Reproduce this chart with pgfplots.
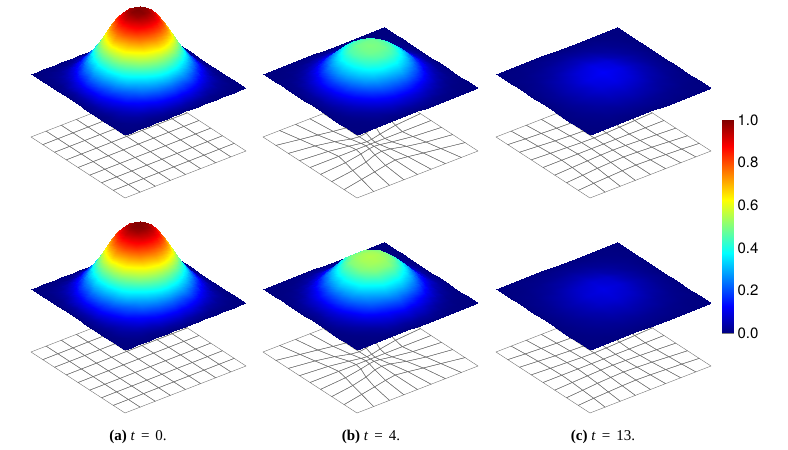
\documentclass[border=0pt]{standalone}
\usepackage{fontspec}
\setmainfont{Liberation Serif}
\newfontfamily\hv{TeX Gyre Heros}
\usepackage{pgfplots}
\usepackage{pgfplotstable}
\pgfplotsset{compat=1.18}
\pgfplotstableread{
0 80 0
4 80 0
8 80 0
12 80 0
16 80 0
20 80 0
24 80 0
28 80 0
32 80 0
36 80 0
40 80 0
44 80 0
48 80 0
52 80 0
56 80 0
60 80 0
64 80 0
68 80 0
72 80 0
76 80 0
80 80 0
0 76 0
4 76 0
8 76 0.005
12 76 0.005
16 76 0.01
20 76 0.01
24 76 0.02
28 76 0.03
32 76 0.03
36 76 0.04
40 76 0.04
44 76 0.04
48 76 0.03
52 76 0.03
56 76 0.02
60 76 0.01
64 76 0.01
68 76 0.005
72 76 0.005
76 76 0
80 76 0
0 72 0
4 72 0.005
8 72 0.01
12 72 0.02
16 72 0.03
20 72 0.04
24 72 0.06
28 72 0.09
32 72 0.11
36 72 0.12
40 72 0.13
44 72 0.12
48 72 0.11
52 72 0.09
56 72 0.06
60 72 0.04
64 72 0.03
68 72 0.02
72 72 0.01
76 72 0.005
80 72 0
0 68 0
4 68 0.005
8 68 0.02
12 68 0.03
16 68 0.06
20 68 0.09
24 68 0.13
28 68 0.17
32 68 0.20
36 68 0.23
40 68 0.24
44 68 0.23
48 68 0.20
52 68 0.17
56 68 0.13
60 68 0.09
64 68 0.06
68 68 0.03
72 68 0.02
76 68 0.005
80 68 0
0 64 0
4 64 0.01
8 64 0.03
12 64 0.06
16 64 0.10
20 64 0.15
24 64 0.21
28 64 0.27
32 64 0.32
36 64 0.36
40 64 0.37
44 64 0.36
48 64 0.32
52 64 0.27
56 64 0.21
60 64 0.15
64 64 0.10
68 64 0.06
72 64 0.03
76 64 0.01
80 64 0
0 60 0
4 60 0.01
8 60 0.04
12 60 0.09
16 60 0.15
20 60 0.23
24 60 0.31
28 60 0.39
32 60 0.46
36 60 0.51
40 60 0.52
44 60 0.51
48 60 0.46
52 60 0.39
56 60 0.31
60 60 0.23
64 60 0.15
68 60 0.09
72 60 0.04
76 60 0.01
80 60 0
0 56 0
4 56 0.02
8 56 0.06
12 56 0.13
16 56 0.21
20 56 0.31
24 56 0.42
28 56 0.52
32 56 0.61
36 56 0.67
40 56 0.69
44 56 0.67
48 56 0.61
52 56 0.52
56 56 0.42
60 56 0.31
64 56 0.21
68 56 0.13
72 56 0.06
76 56 0.02
80 56 0
0 52 0
4 52 0.03
8 52 0.09
12 52 0.17
16 52 0.27
20 52 0.39
24 52 0.52
28 52 0.65
32 52 0.74
36 52 0.81
40 52 0.83
44 52 0.81
48 52 0.74
52 52 0.65
56 52 0.52
60 52 0.39
64 52 0.27
68 52 0.17
72 52 0.09
76 52 0.03
80 52 0
0 48 0
4 48 0.03
8 48 0.11
12 48 0.20
16 48 0.32
20 48 0.46
24 48 0.61
28 48 0.74
32 48 0.85
36 48 0.91
40 48 0.93
44 48 0.91
48 48 0.85
52 48 0.74
56 48 0.61
60 48 0.46
64 48 0.32
68 48 0.20
72 48 0.11
76 48 0.03
80 48 0
0 44 0
4 44 0.04
8 44 0.12
12 44 0.23
16 44 0.36
20 44 0.51
24 44 0.67
28 44 0.81
32 44 0.91
36 44 0.97
40 44 0.99
44 44 0.97
48 44 0.91
52 44 0.81
56 44 0.67
60 44 0.51
64 44 0.36
68 44 0.23
72 44 0.12
76 44 0.04
80 44 0
0 40 0
4 40 0.04
8 40 0.13
12 40 0.24
16 40 0.37
20 40 0.52
24 40 0.69
28 40 0.83
32 40 0.93
36 40 0.99
40 40 1.00
44 40 0.99
48 40 0.93
52 40 0.83
56 40 0.69
60 40 0.52
64 40 0.37
68 40 0.24
72 40 0.13
76 40 0.04
80 40 0
0 36 0
4 36 0.04
8 36 0.12
12 36 0.23
16 36 0.36
20 36 0.51
24 36 0.67
28 36 0.81
32 36 0.91
36 36 0.97
40 36 0.99
44 36 0.97
48 36 0.91
52 36 0.81
56 36 0.67
60 36 0.51
64 36 0.36
68 36 0.23
72 36 0.12
76 36 0.04
80 36 0
0 32 0
4 32 0.03
8 32 0.11
12 32 0.20
16 32 0.32
20 32 0.46
24 32 0.61
28 32 0.74
32 32 0.85
36 32 0.91
40 32 0.93
44 32 0.91
48 32 0.85
52 32 0.74
56 32 0.61
60 32 0.46
64 32 0.32
68 32 0.20
72 32 0.11
76 32 0.03
80 32 0
0 28 0
4 28 0.03
8 28 0.09
12 28 0.17
16 28 0.27
20 28 0.39
24 28 0.52
28 28 0.65
32 28 0.74
36 28 0.81
40 28 0.83
44 28 0.81
48 28 0.74
52 28 0.65
56 28 0.52
60 28 0.39
64 28 0.27
68 28 0.17
72 28 0.09
76 28 0.03
80 28 0
0 24 0
4 24 0.02
8 24 0.06
12 24 0.13
16 24 0.21
20 24 0.31
24 24 0.42
28 24 0.52
32 24 0.61
36 24 0.67
40 24 0.69
44 24 0.67
48 24 0.61
52 24 0.52
56 24 0.42
60 24 0.31
64 24 0.21
68 24 0.13
72 24 0.06
76 24 0.02
80 24 0
0 20 0
4 20 0.01
8 20 0.04
12 20 0.09
16 20 0.15
20 20 0.23
24 20 0.31
28 20 0.39
32 20 0.46
36 20 0.51
40 20 0.52
44 20 0.51
48 20 0.46
52 20 0.39
56 20 0.31
60 20 0.23
64 20 0.15
68 20 0.09
72 20 0.04
76 20 0.01
80 20 0
0 16 0
4 16 0.01
8 16 0.03
12 16 0.06
16 16 0.10
20 16 0.15
24 16 0.21
28 16 0.27
32 16 0.32
36 16 0.36
40 16 0.37
44 16 0.36
48 16 0.32
52 16 0.27
56 16 0.21
60 16 0.15
64 16 0.10
68 16 0.06
72 16 0.03
76 16 0.01
80 16 0
0 12 0
4 12 0.005
8 12 0.02
12 12 0.03
16 12 0.06
20 12 0.09
24 12 0.13
28 12 0.17
32 12 0.20
36 12 0.23
40 12 0.24
44 12 0.23
48 12 0.20
52 12 0.17
56 12 0.13
60 12 0.09
64 12 0.06
68 12 0.03
72 12 0.02
76 12 0.005
80 12 0
0 8 0
4 8 0.005
8 8 0.01
12 8 0.02
16 8 0.03
20 8 0.04
24 8 0.06
28 8 0.09
32 8 0.11
36 8 0.12
40 8 0.13
44 8 0.12
48 8 0.11
52 8 0.09
56 8 0.06
60 8 0.04
64 8 0.03
68 8 0.02
72 8 0.01
76 8 0.005
80 8 0
0 4 0
4 4 0
8 4 0.005
12 4 0.005
16 4 0.01
20 4 0.01
24 4 0.02
28 4 0.03
32 4 0.03
36 4 0.04
40 4 0.04
44 4 0.04
48 4 0.03
52 4 0.03
56 4 0.02
60 4 0.01
64 4 0.01
68 4 0.005
72 4 0.005
76 4 0
80 4 0
0 0 0
4 0 0
8 0 0
12 0 0
16 0 0
20 0 0
24 0 0
28 0 0
32 0 0
36 0 0
40 0 0
44 0 0
48 0 0
52 0 0
56 0 0
60 0 0
64 0 0
68 0 0
72 0 0
76 0 0
80 0 0
}\surfA
\pgfplotstableread{
0 80 0
5 80 0
10 80 0
15 80 0
20 80 0
25 80 0
30 80 0
35 80 0
40 80 0
45 80 0
50 80 0
55 80 0
60 80 0
65 80 0
70 80 0
75 80 0
80 80 0
0 75 0
5 75 0
10 75 0.002
15 75 0.005
20 75 0.01
25 75 0.015
30 75 0.025
35 75 0.03
40 75 0.03
45 75 0.03
50 75 0.025
55 75 0.015
60 75 0.01
65 75 0.005
70 75 0.002
75 75 0
80 75 0
0 70 0
5 70 0.002
10 70 0.005
15 70 0.014
20 70 0.03
25 70 0.05
30 70 0.07
35 70 0.085
40 70 0.09
45 70 0.085
50 70 0.07
55 70 0.05
60 70 0.03
65 70 0.014
70 70 0.005
75 70 0.002
80 70 0
0 65 0
5 65 0.005
10 65 0.014
15 65 0.033
20 65 0.065
25 65 0.10
30 65 0.14
35 65 0.17
40 65 0.18
45 65 0.17
50 65 0.14
55 65 0.10
60 65 0.065
65 65 0.033
70 65 0.014
75 65 0.005
80 65 0
0 60 0
5 60 0.01
10 60 0.03
15 60 0.065
20 60 0.12
25 60 0.18
30 60 0.24
35 60 0.275
40 60 0.29
45 60 0.275
50 60 0.24
55 60 0.18
60 60 0.12
65 60 0.065
70 60 0.03
75 60 0.01
80 60 0
0 55 0
5 55 0.015
10 55 0.05
15 55 0.10
20 55 0.18
25 55 0.26
30 55 0.33
35 55 0.38
40 55 0.39
45 55 0.38
50 55 0.33
55 55 0.26
60 55 0.18
65 55 0.10
70 55 0.05
75 55 0.015
80 55 0
0 50 0
5 50 0.025
10 50 0.07
15 50 0.14
20 50 0.24
25 50 0.33
30 50 0.41
35 50 0.45
40 50 0.46
45 50 0.45
50 50 0.41
55 50 0.33
60 50 0.24
65 50 0.14
70 50 0.07
75 50 0.025
80 50 0
0 45 0
5 45 0.03
10 45 0.085
15 45 0.17
20 45 0.275
25 45 0.38
30 45 0.45
35 45 0.485
40 45 0.49
45 45 0.485
50 45 0.45
55 45 0.38
60 45 0.275
65 45 0.17
70 45 0.085
75 45 0.03
80 45 0
0 40 0
5 40 0.03
10 40 0.09
15 40 0.18
20 40 0.29
25 40 0.39
30 40 0.46
35 40 0.49
40 40 0.50
45 40 0.49
50 40 0.46
55 40 0.39
60 40 0.29
65 40 0.18
70 40 0.09
75 40 0.03
80 40 0
0 35 0
5 35 0.03
10 35 0.085
15 35 0.17
20 35 0.275
25 35 0.38
30 35 0.45
35 35 0.485
40 35 0.49
45 35 0.485
50 35 0.45
55 35 0.38
60 35 0.275
65 35 0.17
70 35 0.085
75 35 0.03
80 35 0
0 30 0
5 30 0.025
10 30 0.07
15 30 0.14
20 30 0.24
25 30 0.33
30 30 0.41
35 30 0.45
40 30 0.46
45 30 0.45
50 30 0.41
55 30 0.33
60 30 0.24
65 30 0.14
70 30 0.07
75 30 0.025
80 30 0
0 25 0
5 25 0.015
10 25 0.05
15 25 0.10
20 25 0.18
25 25 0.26
30 25 0.33
35 25 0.38
40 25 0.39
45 25 0.38
50 25 0.33
55 25 0.26
60 25 0.18
65 25 0.10
70 25 0.05
75 25 0.015
80 25 0
0 20 0
5 20 0.01
10 20 0.03
15 20 0.065
20 20 0.12
25 20 0.18
30 20 0.24
35 20 0.275
40 20 0.29
45 20 0.275
50 20 0.24
55 20 0.18
60 20 0.12
65 20 0.065
70 20 0.03
75 20 0.01
80 20 0
0 15 0
5 15 0.005
10 15 0.014
15 15 0.033
20 15 0.065
25 15 0.10
30 15 0.14
35 15 0.17
40 15 0.18
45 15 0.17
50 15 0.14
55 15 0.10
60 15 0.065
65 15 0.033
70 15 0.014
75 15 0.005
80 15 0
0 10 0
5 10 0.002
10 10 0.005
15 10 0.014
20 10 0.03
25 10 0.05
30 10 0.07
35 10 0.085
40 10 0.09
45 10 0.085
50 10 0.07
55 10 0.05
60 10 0.03
65 10 0.014
70 10 0.005
75 10 0.002
80 10 0
0 5 0
5 5 0
10 5 0.002
15 5 0.005
20 5 0.01
25 5 0.015
30 5 0.025
35 5 0.03
40 5 0.03
45 5 0.03
50 5 0.025
55 5 0.015
60 5 0.01
65 5 0.005
70 5 0.002
75 5 0
80 5 0
0 0 0
5 0 0
10 0 0
15 0 0
20 0 0
25 0 0
30 0 0
35 0 0
40 0 0
45 0 0
50 0 0
55 0 0
60 0 0
65 0 0
70 0 0
75 0 0
80 0 0
}\surfB
\pgfplotstableread{
0 80 0
5 80 0
10 80 0
15 80 0
20 80 0
25 80 0
30 80 0
35 80 0
40 80 0
45 80 0
50 80 0
55 80 0
60 80 0
65 80 0
70 80 0
75 80 0
80 80 0
0 75 0
5 75 0
10 75 0.002
15 75 0.005
20 75 0.01
25 75 0.02
30 75 0.03
35 75 0.03
40 75 0.03
45 75 0.03
50 75 0.03
55 75 0.02
60 75 0.01
65 75 0.005
70 75 0.002
75 75 0
80 75 0
0 70 0
5 70 0.002
10 70 0.005
15 70 0.015
20 70 0.03
25 70 0.055
30 70 0.08
35 70 0.09
40 70 0.10
45 70 0.09
50 70 0.08
55 70 0.055
60 70 0.03
65 70 0.015
70 70 0.005
75 70 0.002
80 70 0
0 65 0
5 65 0.005
10 65 0.015
15 65 0.036
20 65 0.07
25 65 0.11
30 65 0.15
35 65 0.19
40 65 0.20
45 65 0.19
50 65 0.15
55 65 0.11
60 65 0.07
65 65 0.036
70 65 0.015
75 65 0.005
80 65 0
0 60 0
5 60 0.01
10 60 0.03
15 60 0.07
20 60 0.13
25 60 0.20
30 60 0.26
35 60 0.30
40 60 0.32
45 60 0.30
50 60 0.26
55 60 0.20
60 60 0.13
65 60 0.07
70 60 0.03
75 60 0.01
80 60 0
0 55 0
5 55 0.02
10 55 0.055
15 55 0.11
20 55 0.20
25 55 0.29
30 55 0.36
35 55 0.42
40 55 0.43
45 55 0.42
50 55 0.36
55 55 0.29
60 55 0.20
65 55 0.11
70 55 0.055
75 55 0.02
80 55 0
0 50 0
5 50 0.03
10 50 0.08
15 50 0.15
20 50 0.26
25 50 0.36
30 50 0.45
35 50 0.50
40 50 0.51
45 50 0.50
50 50 0.45
55 50 0.36
60 50 0.26
65 50 0.15
70 50 0.08
75 50 0.03
80 50 0
0 45 0
5 45 0.03
10 45 0.09
15 45 0.19
20 45 0.30
25 45 0.42
30 45 0.50
35 45 0.53
40 45 0.54
45 45 0.53
50 45 0.50
55 45 0.42
60 45 0.30
65 45 0.19
70 45 0.09
75 45 0.03
80 45 0
0 40 0
5 40 0.03
10 40 0.10
15 40 0.20
20 40 0.32
25 40 0.43
30 40 0.51
35 40 0.54
40 40 0.55
45 40 0.54
50 40 0.51
55 40 0.43
60 40 0.32
65 40 0.20
70 40 0.10
75 40 0.03
80 40 0
0 35 0
5 35 0.03
10 35 0.09
15 35 0.19
20 35 0.30
25 35 0.42
30 35 0.50
35 35 0.53
40 35 0.54
45 35 0.53
50 35 0.50
55 35 0.42
60 35 0.30
65 35 0.19
70 35 0.09
75 35 0.03
80 35 0
0 30 0
5 30 0.03
10 30 0.08
15 30 0.15
20 30 0.26
25 30 0.36
30 30 0.45
35 30 0.50
40 30 0.51
45 30 0.50
50 30 0.45
55 30 0.36
60 30 0.26
65 30 0.15
70 30 0.08
75 30 0.03
80 30 0
0 25 0
5 25 0.02
10 25 0.055
15 25 0.11
20 25 0.20
25 25 0.29
30 25 0.36
35 25 0.42
40 25 0.43
45 25 0.42
50 25 0.36
55 25 0.29
60 25 0.20
65 25 0.11
70 25 0.055
75 25 0.02
80 25 0
0 20 0
5 20 0.01
10 20 0.03
15 20 0.07
20 20 0.13
25 20 0.20
30 20 0.26
35 20 0.30
40 20 0.32
45 20 0.30
50 20 0.26
55 20 0.20
60 20 0.13
65 20 0.07
70 20 0.03
75 20 0.01
80 20 0
0 15 0
5 15 0.005
10 15 0.015
15 15 0.036
20 15 0.07
25 15 0.11
30 15 0.15
35 15 0.19
40 15 0.20
45 15 0.19
50 15 0.15
55 15 0.11
60 15 0.07
65 15 0.036
70 15 0.015
75 15 0.005
80 15 0
0 10 0
5 10 0.002
10 10 0.005
15 10 0.015
20 10 0.03
25 10 0.055
30 10 0.08
35 10 0.09
40 10 0.10
45 10 0.09
50 10 0.08
55 10 0.055
60 10 0.03
65 10 0.015
70 10 0.005
75 10 0.002
80 10 0
0 5 0
5 5 0
10 5 0.002
15 5 0.005
20 5 0.01
25 5 0.02
30 5 0.03
35 5 0.03
40 5 0.03
45 5 0.03
50 5 0.03
55 5 0.02
60 5 0.01
65 5 0.005
70 5 0.002
75 5 0
80 5 0
0 0 0
5 0 0
10 0 0
15 0 0
20 0 0
25 0 0
30 0 0
35 0 0
40 0 0
45 0 0
50 0 0
55 0 0
60 0 0
65 0 0
70 0 0
75 0 0
80 0 0
}\surfBb
\pgfplotstableread{
0 80 0
10 80 0
20 80 0
30 80 0
40 80 0
50 80 0
60 80 0
70 80 0
80 80 0
0 70 0
10 70 0.005
20 70 0.013
30 70 0.021
40 70 0.025
50 70 0.021
60 70 0.013
70 70 0.005
80 70 0
0 60 0
10 60 0.013
20 60 0.030
30 60 0.050
40 60 0.060
50 60 0.050
60 60 0.030
70 60 0.013
80 60 0
0 50 0
10 50 0.021
20 50 0.050
30 50 0.085
40 50 0.101
50 50 0.085
60 50 0.050
70 50 0.021
80 50 0
0 40 0
10 40 0.025
20 40 0.060
30 40 0.101
40 40 0.120
50 40 0.101
60 40 0.060
70 40 0.025
80 40 0
0 30 0
10 30 0.021
20 30 0.050
30 30 0.085
40 30 0.101
50 30 0.085
60 30 0.050
70 30 0.021
80 30 0
0 20 0
10 20 0.013
20 20 0.030
30 20 0.050
40 20 0.060
50 20 0.050
60 20 0.030
70 20 0.013
80 20 0
0 10 0
10 10 0.005
20 10 0.013
30 10 0.021
40 10 0.025
50 10 0.021
60 10 0.013
70 10 0.005
80 10 0
0 0 0
10 0 0
20 0 0
30 0 0
40 0 0
50 0 0
60 0 0
70 0 0
80 0 0
}\surfC
\pgfplotstableread{
0 80 0
10 80 0
20 80 0
30 80 0
40 80 0
50 80 0
60 80 0
70 80 0
80 80 0
0 70 0
10 70 0.004
20 70 0.011
30 70 0.017
40 70 0.021
50 70 0.017
60 70 0.011
70 70 0.004
80 70 0
0 60 0
10 60 0.011
20 60 0.025
30 60 0.042
40 60 0.050
50 60 0.042
60 60 0.025
70 60 0.011
80 60 0
0 50 0
10 50 0.017
20 50 0.042
30 50 0.071
40 50 0.084
50 50 0.071
60 50 0.042
70 50 0.017
80 50 0
0 40 0
10 40 0.021
20 40 0.050
30 40 0.084
40 40 0.100
50 40 0.084
60 40 0.050
70 40 0.021
80 40 0
0 30 0
10 30 0.017
20 30 0.042
30 30 0.071
40 30 0.084
50 30 0.071
60 30 0.042
70 30 0.017
80 30 0
0 20 0
10 20 0.011
20 20 0.025
30 20 0.042
40 20 0.050
50 20 0.042
60 20 0.025
70 20 0.011
80 20 0
0 10 0
10 10 0.004
20 10 0.011
30 10 0.017
40 10 0.021
50 10 0.017
60 10 0.011
70 10 0.004
80 10 0
0 0 0
10 0 0
20 0 0
30 0 0
40 0 0
50 0 0
60 0 0
70 0 0
80 0 0
}\surfCb
\pgfplotstableread{
0 0 -0.875
10 0 -0.875
20 0 -0.875
30 0 -0.875
40 0 -0.875
50 0 -0.875
60 0 -0.875
70 0 -0.875
80 0 -0.875
0 10 -0.875
10 10 -0.875
20 10 -0.875
30 10 -0.875
40 10 -0.875
50 10 -0.875
60 10 -0.875
70 10 -0.875
80 10 -0.875
0 20 -0.875
10 20 -0.875
20 20 -0.875
30 20 -0.875
40 20 -0.875
50 20 -0.875
60 20 -0.875
70 20 -0.875
80 20 -0.875
0 30 -0.875
10 30 -0.875
20 30 -0.875
30 30 -0.875
40 30 -0.875
50 30 -0.875
60 30 -0.875
70 30 -0.875
80 30 -0.875
0 40 -0.875
10 40 -0.875
20 40 -0.875
30 40 -0.875
40 40 -0.875
50 40 -0.875
60 40 -0.875
70 40 -0.875
80 40 -0.875
0 50 -0.875
10 50 -0.875
20 50 -0.875
30 50 -0.875
40 50 -0.875
50 50 -0.875
60 50 -0.875
70 50 -0.875
80 50 -0.875
0 60 -0.875
10 60 -0.875
20 60 -0.875
30 60 -0.875
40 60 -0.875
50 60 -0.875
60 60 -0.875
70 60 -0.875
80 60 -0.875
0 70 -0.875
10 70 -0.875
20 70 -0.875
30 70 -0.875
40 70 -0.875
50 70 -0.875
60 70 -0.875
70 70 -0.875
80 70 -0.875
0 80 -0.875
10 80 -0.875
20 80 -0.875
30 80 -0.875
40 80 -0.875
50 80 -0.875
60 80 -0.875
70 80 -0.875
80 80 -0.875
}\meshA
\pgfplotstableread{
0 0 -0.875
11 0 -0.875
21.5 0 -0.875
31 0 -0.875
40 0 -0.875
49 0 -0.875
58.5 0 -0.875
69 0 -0.875
80 0 -0.875
0 11 -0.875
13.8 13.8 -0.875
23.9 15.8 -0.875
32.6 17.7 -0.875
40 19 -0.875
47.4 17.7 -0.875
56.1 15.8 -0.875
66.2 13.8 -0.875
80 11 -0.875
0 21.5 -0.875
15.8 23.9 -0.875
26.6 26.6 -0.875
34.9 29.7 -0.875
40 30.5 -0.875
45.1 29.7 -0.875
53.4 26.6 -0.875
64.2 23.9 -0.875
80 21.5 -0.875
0 31 -0.875
17.7 32.6 -0.875
29.7 34.9 -0.875
36.5 36.5 -0.875
40 37 -0.875
43.5 36.5 -0.875
50.3 34.9 -0.875
62.3 32.6 -0.875
80 31 -0.875
0 40 -0.875
19 40 -0.875
30.5 40 -0.875
37 40 -0.875
40 40 -0.875
43 40 -0.875
49.5 40 -0.875
61 40 -0.875
80 40 -0.875
0 49 -0.875
17.7 47.4 -0.875
29.7 45.1 -0.875
36.5 43.5 -0.875
40 43 -0.875
43.5 43.5 -0.875
50.3 45.1 -0.875
62.3 47.4 -0.875
80 49 -0.875
0 58.5 -0.875
15.8 56.1 -0.875
26.6 53.4 -0.875
34.9 50.3 -0.875
40 49.5 -0.875
45.1 50.3 -0.875
53.4 53.4 -0.875
64.2 56.1 -0.875
80 58.5 -0.875
0 69 -0.875
13.8 66.2 -0.875
23.9 64.2 -0.875
32.6 62.3 -0.875
40 61 -0.875
47.4 62.3 -0.875
56.1 64.2 -0.875
66.2 66.2 -0.875
80 69 -0.875
0 80 -0.875
11 80 -0.875
21.5 80 -0.875
31 80 -0.875
40 80 -0.875
49 80 -0.875
58.5 80 -0.875
69 80 -0.875
80 80 -0.875
}\meshB
\pgfplotstableread{
0 0 -0.875
10 0 -0.875
20 0 -0.875
30 0 -0.875
40 0 -0.875
50 0 -0.875
60 0 -0.875
70 0 -0.875
80 0 -0.875
0 10 -0.875
10.9 10.9 -0.875
21 11.5 -0.875
30.7 12.1 -0.875
40 12.4 -0.875
49.3 12.1 -0.875
59 11.5 -0.875
69.1 10.9 -0.875
80 10 -0.875
0 20 -0.875
11.5 21 -0.875
22 22 -0.875
31.3 22.6 -0.875
40 23 -0.875
48.7 22.6 -0.875
58 22 -0.875
68.5 21 -0.875
80 20 -0.875
0 30 -0.875
12.1 30.7 -0.875
22.6 31.3 -0.875
31.8 31.8 -0.875
40 32 -0.875
48.2 31.8 -0.875
57.4 31.3 -0.875
67.9 30.7 -0.875
80 30 -0.875
0 40 -0.875
12.4 40 -0.875
23 40 -0.875
32 40 -0.875
40 40 -0.875
48 40 -0.875
57 40 -0.875
67.6 40 -0.875
80 40 -0.875
0 50 -0.875
12.1 49.3 -0.875
22.6 48.7 -0.875
31.8 48.2 -0.875
40 48 -0.875
48.2 48.2 -0.875
57.4 48.7 -0.875
67.9 49.3 -0.875
80 50 -0.875
0 60 -0.875
11.5 59 -0.875
22 58 -0.875
31.3 57.4 -0.875
40 57 -0.875
48.7 57.4 -0.875
58 58 -0.875
68.5 59 -0.875
80 60 -0.875
0 70 -0.875
10.9 69.1 -0.875
21 68.5 -0.875
30.7 67.9 -0.875
40 67.6 -0.875
49.3 67.9 -0.875
59 68.5 -0.875
69.1 69.1 -0.875
80 70 -0.875
0 80 -0.875
10 80 -0.875
20 80 -0.875
30 80 -0.875
40 80 -0.875
50 80 -0.875
60 80 -0.875
70 80 -0.875
80 80 -0.875
}\meshC
\pgfplotsset{panel/.style={
  hide axis, clip=false, anchor=origin,
  x={(1.175pt,-0.7625pt)}, y={(1.5125pt,0.5875pt)}, z={(0pt,72pt)},
  xmin=0,xmax=80,ymin=0,ymax=80,zmin=-0.9,zmax=1,
  colormap/jet, point meta min=0, point meta max=1}}
\newcommand{\panel}[5]{%
\begin{axis}[panel, at={(#1pt,#2pt)}]
\addplot3[mesh, draw=black!55, line width=0.4pt, mesh/rows=9, z buffer=none]
  table[x index=0,y index=1,z index=2] {#3};
\addplot3[surf, shader=interp, mesh/rows=#5, z buffer=none]
  table[x index=0,y index=1,z index=2] {#4};
\end{axis}}
\newcommand{\subcap}[3]{\node[font=\fontsize{15}{17}\selectfont] at (#1,13.5) {{\bfseries (#2)} \textit{t}\hspace{6pt}=\hspace{6pt}#3.};}
\begin{document}
\begin{tikzpicture}[x=1pt,y=1pt]
\useasboundingbox (0,0) rectangle (788,450);
\panel{31}{376}{\meshA}{\surfA}{21}
\panel{263}{376}{\meshB}{\surfB}{17}
\panel{496}{376}{\meshC}{\surfC}{9}
\panel{31}{161}{\meshA}{\surfA}{21}
\panel{263}{161}{\meshB}{\surfBb}{17}
\panel{496}{161}{\meshC}{\surfCb}{9}
\begin{axis}[at={(722pt,117pt)}, anchor=south west, x=11pt, y=213pt, xmin=0,xmax=1,ymin=0,ymax=1,
  colormap/jet, point meta min=0, point meta max=1,
  xtick=\empty, ytick={0,0.2,0.4,0.6,0.8,1}, yticklabel pos=right, major tick length=0pt,
  axis line style={draw=black!50,line width=0.4pt},
  /pgf/number format/assume math mode=true,
  /pgf/number format/fixed, /pgf/number format/fixed zerofill, /pgf/number format/precision=1,
  yticklabel style={font=\hv\fontsize{15}{17}\selectfont, xshift=1pt}]
\addplot[surf, shader=interp, mesh/rows=2, point meta=y] table {
0 0
1 0
0 1
1 1
};
\end{axis}
\subcap{138}{a}{0}
\subcap{371}{b}{4}
\subcap{603}{c}{13}
\end{tikzpicture}
\end{document}
